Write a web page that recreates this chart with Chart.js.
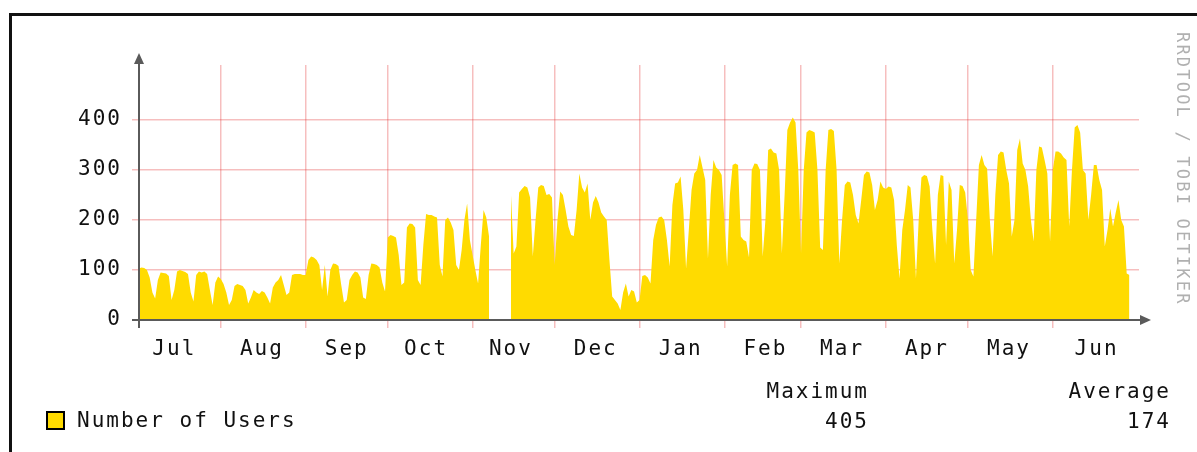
<!DOCTYPE html>
<html>
<head>
<meta charset="utf-8">
<title>Number of Users</title>
<script src="https://cdn.jsdelivr.net/npm/chart.js"></script>
<style>
  body { margin: 0; background: #fff; }
  #wrap { position: relative; width: 1197px; height: 452px; overflow: hidden; }
  #frame { position: absolute; left: 9px; top: 13px; width: 1400px; height: 600px; border: 3px solid #111; box-sizing: border-box; }
  #chart { position: absolute; left: 0; top: 0; }
</style>
</head>
<body>
<div id="wrap">
  <div id="frame"></div>
  <canvas id="chart" width="1197" height="452"></canvas>
</div>
<script>
// daily values, one array per month (Jul .. Jun), null = no data
const jul = [100,103,105,104,100,85,55,43,80,95,94,93,88,40,60,97,100,98,96,92,55,37,90,97,95,97,92,60,30,75,87];
const aug = [82,72,55,30,40,68,72,70,68,60,33,45,60,55,52,58,55,45,33,65,75,80,90,70,50,55,90,92,92,92,90];
const sep = [90,120,127,125,120,110,60,110,47,100,113,112,108,70,35,40,80,90,97,95,85,45,42,90,113,112,110,105,75,57];
const oct = [165,170,168,165,130,70,75,185,193,192,185,80,70,150,212,210,210,207,205,110,87,200,205,195,180,110,100,140,200,233,160];
const nov = [130,100,73,150,220,205,167,null,null,null,null,null,null,null,253,133,147,255,262,268,265,245,127,200,265,270,268,250,252,245];
const dec = [110,200,257,250,220,187,170,168,220,293,265,255,273,200,235,248,235,215,207,200,120,47,40,33,20,55,73,47,60,57,35];
const jan = [40,88,90,85,73,160,190,205,207,200,160,107,230,273,275,287,220,103,180,260,293,300,330,305,280,123,250,320,305,300,290];
const feb = [200,107,250,310,313,310,167,160,157,125,300,313,312,300,127,200,340,343,335,333,300,133,250,380,395,405,395,300];
const mar = [133,300,375,380,378,375,300,145,140,300,380,382,378,300,113,200,270,277,275,250,210,193,240,290,297,295,270,220,240,277,265];
const apr = [262,267,265,240,150,83,180,220,270,265,200,83,200,285,290,288,267,180,113,250,290,288,150,277,260,113,180,270,268,255];
const may = [200,100,87,200,310,330,310,303,200,127,250,330,337,335,300,273,167,200,340,363,313,300,267,200,157,300,347,345,320,293,157];
const jun = [300,337,337,333,325,320,187,300,385,390,375,300,293,200,250,310,310,280,260,147,180,223,187,215,240,200,187,93,90,null];

const months = [jul, aug, sep, oct, nov, dec, jan, feb, mar, apr, may, jun];
// day number (from Jul 1) of the first of each month
const monthStarts = [0, 31, 62, 92, 123, 153, 184, 215, 243, 274, 304, 335];
const tickLabels = ['Jul', 'Aug', 'Sep', 'Oct', 'Nov', 'Dec', 'Jan', 'Feb', 'Mar', 'Apr', 'May', 'Jun'];
const labelDays = [14, 46, 77, 106, 137, 168, 199, 230, 258, 289, 319, 351];
const yTicks = [0, 100, 200, 300, 400];

const seriesName = 'Number of Users';
const statLabels = ['Maximum', 'Average'];
const statValues = ['405', '174'];
const watermark = 'RRDTOOL / TOBI OETIKER';

const yellow = '#FFDB00';
const gridColor = 'rgba(225, 40, 40, 0.3)';
const textColor = '#111';
const mono = 'DejaVu Sans Mono';

let points = [];
months.forEach((m, i) => {
  m.forEach((v, j) => points.push({ x: monthStarts[i] + j, y: v }));
});

const spacing = {
  id: 'spacing',
  beforeDraw(chart) {
    chart.ctx.letterSpacing = '2px';
  }
};

const decor = {
  id: 'decor',
  afterDraw(chart) {
    const ctx = chart.ctx;
    const x0 = chart.chartArea.left;
    const y0 = chart.scales.y.getPixelForValue(0);
    ctx.save();

    // axes with arrows
    ctx.strokeStyle = '#5a5a5a';
    ctx.fillStyle = '#5a5a5a';
    ctx.lineWidth = 2;
    ctx.beginPath();
    ctx.moveTo(x0, y0 + 8);
    ctx.lineTo(x0, 62);
    ctx.moveTo(x0 - 7, y0);
    ctx.lineTo(1142, y0);
    ctx.stroke();
    ctx.beginPath();
    ctx.moveTo(x0 - 5, 64);
    ctx.lineTo(x0 + 5, 64);
    ctx.lineTo(x0, 53);
    ctx.closePath();
    ctx.fill();
    ctx.beginPath();
    ctx.moveTo(1140, y0 - 5);
    ctx.lineTo(1140, y0 + 5);
    ctx.lineTo(1151, y0);
    ctx.closePath();
    ctx.fill();

    // legend
    ctx.fillStyle = yellow;
    ctx.fillRect(47, 412, 17, 17);
    ctx.strokeStyle = '#000';
    ctx.lineWidth = 2;
    ctx.strokeRect(47, 412, 17, 17);

    ctx.font = '21px "' + mono + '"';
    ctx.letterSpacing = '2px';
    ctx.fillStyle = textColor;
    ctx.textBaseline = 'alphabetic';
    ctx.textAlign = 'left';
    ctx.fillText(seriesName, 77, 427);

    ctx.textAlign = 'right';
    ctx.fillText(statLabels[0], 869, 398);
    ctx.fillText(statValues[0], 869, 428);
    ctx.fillText(statLabels[1], 1171, 398);
    ctx.fillText(statValues[1], 1171, 428);

    // vertical credit
    ctx.translate(1177, 32);
    ctx.rotate(Math.PI / 2);
    ctx.font = '17px "' + mono + '"';
    ctx.letterSpacing = '2.2px';
    ctx.fillStyle = '#b0b0b0';
    ctx.textAlign = 'left';
    ctx.fillText(watermark, 0, 0);
    ctx.restore();
  }
};

new Chart(document.getElementById('chart'), {
  type: 'line',
  data: {
    datasets: [{
      label: seriesName,
      data: points,
      backgroundColor: yellow,
      borderColor: yellow,
      borderWidth: 0,
      pointRadius: 0,
      tension: 0,
      fill: 'origin',
      spanGaps: false
    }]
  },
  options: {
    responsive: false,
    animation: false,
    layout: { padding: { top: 65, right: 58, left: 0, bottom: 0 } },
    plugins: {
      legend: { display: false },
      tooltip: { enabled: false }
    },
    scales: {
      x: {
        type: 'linear',
        min: 1.1,
        max: 366.5,
        z: 1,
        afterBuildTicks: (scale) => {
          const vals = monthStarts.slice(1).concat(labelDays).sort((a, b) => a - b);
          scale.ticks = vals.map(v => ({ value: v }));
        },
        afterFit: (scale) => { scale.height = 132; },
        border: { display: false },
        grid: {
          color: (c) => (c.tick && monthStarts.includes(c.tick.value)) ? gridColor : 'rgba(0,0,0,0)',
          lineWidth: 1.5,
          tickLength: 8
        },
        ticks: {
          autoSkip: false,
          maxRotation: 0,
          padding: 9,
          color: textColor,
          font: { family: mono, size: 21 },
          callback: (v) => {
            const i = labelDays.indexOf(v);
            return i >= 0 ? tickLabels[i] : '';
          }
        }
      },
      y: {
        min: 0,
        max: 510,
        z: 1,
        afterBuildTicks: (scale) => {
          scale.ticks = yTicks.map(v => ({ value: v }));
        },
        afterFit: (scale) => { scale.width = 139; },
        border: { display: false },
        grid: { color: gridColor, lineWidth: 1.5, tickLength: 7 },
        ticks: {
          padding: 10,
          color: textColor,
          font: { family: mono, size: 21 }
        }
      }
    }
  },
  plugins: [spacing, decor]
});
</script>
</body>
</html>
